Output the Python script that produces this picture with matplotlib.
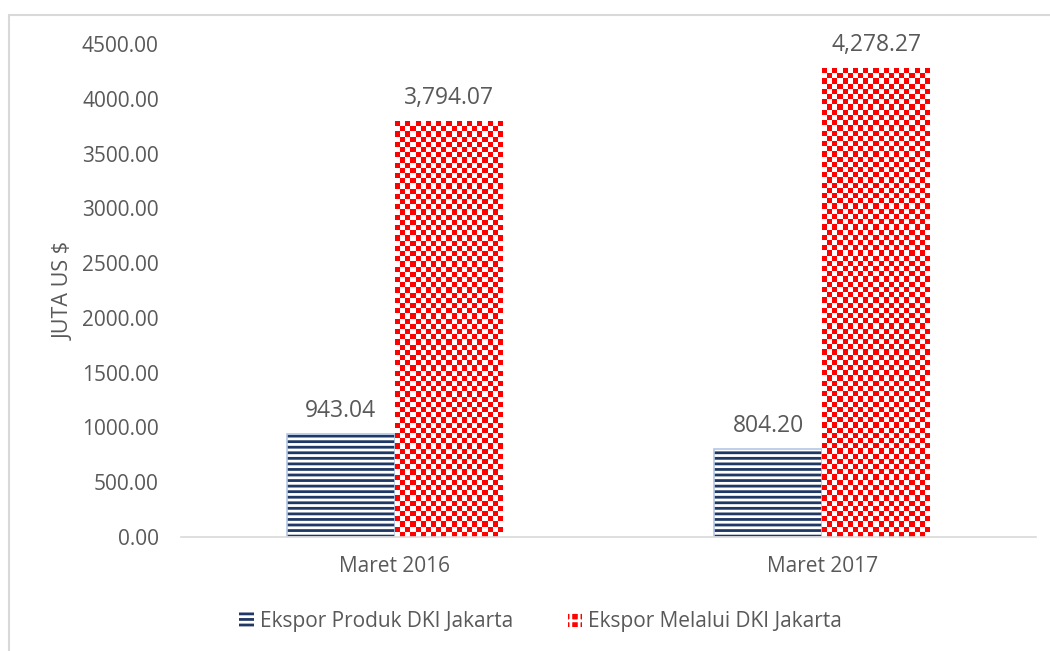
import matplotlib
matplotlib.use('Agg')
import matplotlib.pyplot as plt
import numpy as np
from matplotlib.colors import ListedColormap
from matplotlib.patches import Patch, Rectangle

plt.rcParams['font.family'] = ['Open Sans', 'DejaVu Sans']

categories = ['Maret 2016', 'Maret 2017']
produk = [943.04, 804.20]      # Ekspor Produk DKI Jakarta
melalui = [3794.07, 4278.27]   # Ekspor Melalui DKI Jakarta
yticks = [0, 500, 1000, 1500, 2000, 2500, 3000, 3500, 4000, 4500]

TEXT = '#595959'
NAVY = '#203864'
EDGE = '#B4C7E7'
RED = '#FF0000'

fig = plt.figure(figsize=(10.5, 6.51), dpi=100)
ax = fig.add_axes([0.1724, 0.1751, 0.8143, 0.7573])

x = np.arange(len(categories))
w = 0.2526

# blue bars: white with dense navy horizontal lines
plt.rcParams['hatch.linewidth'] = 2.0
ax.bar(x - w / 2, produk, w, facecolor='white', edgecolor=NAVY, hatch='---', linewidth=0)
ax.bar(x - w / 2, produk, w, fill=False, edgecolor=EDGE, linewidth=1.2)

# red bars: checkerboard texture clipped to each bar
checker = ListedColormap(['white', RED])
red_bars = ax.bar(x + w / 2, melalui, w, facecolor='white', linewidth=0)
for b in red_bars:
    nx = 21
    ny = int(round(b.get_height() / 4500 * 493 / 5.2))
    grid = (np.add.outer(np.arange(ny), np.arange(nx)) % 2).astype(float)
    im = ax.imshow(grid, cmap=checker, vmin=0, vmax=1, interpolation='nearest',
                   extent=(b.get_x(), b.get_x() + b.get_width(), 0, b.get_height()),
                   aspect='auto', origin='lower', zorder=2)
    im.set_clip_path(b)

for xi, v in zip(x - w / 2, produk):
    ax.annotate(f'{v:,.2f}', (xi, v), xytext=(0, 8), textcoords='offset points',
                ha='center', va='bottom', fontsize=16.5, color=TEXT)
for xi, v in zip(x + w / 2, melalui):
    ax.annotate(f'{v:,.2f}', (xi, v), xytext=(0, 8), textcoords='offset points',
                ha='center', va='bottom', fontsize=16.5, color=TEXT)

ax.set_xlim(-0.5, 1.5)
ax.set_ylim(0, 4500)
ax.set_yticks(yticks)
ax.set_yticklabels([f'{t:.2f}' for t in yticks])
ax.set_xticks(x)
ax.set_xticklabels(categories)
ax.tick_params(axis='both', length=0, labelsize=15, labelcolor=TEXT)
ax.tick_params(axis='y', pad=16)
ax.tick_params(axis='x', pad=14)
ax.set_ylabel('JUTA US $', fontsize=15.5, color=TEXT, labelpad=5)

for s in ['top', 'right', 'left']:
    ax.spines[s].set_visible(False)
ax.spines['bottom'].set_color('#D9D9D9')
ax.spines['bottom'].set_linewidth(1.2)

handles = [
    Patch(facecolor='white', edgecolor=NAVY, hatch='---', linewidth=0),
    Patch(facecolor=RED, edgecolor='white', hatch='++', linewidth=0),
]
fig.legend(handles, ['Ekspor Produk DKI Jakarta', 'Ekspor Melalui DKI Jakarta'],
           loc='center', bbox_to_anchor=(0.515, 0.046), ncol=2, frameon=False,
           fontsize=15, labelcolor=TEXT, handlelength=0.7, handleheight=0.7,
           handletextpad=0.3, columnspacing=2.6)

# chart border (only left and top edges fall inside the image)
fig.add_artist(Rectangle((9 / 1050, -0.2), 1.2, 0.2 + 1 - 15 / 651,
                         transform=fig.transFigure, fill=False,
                         edgecolor='#D9D9D9', linewidth=1.5))

fig.savefig('out.png', dpi=100)
